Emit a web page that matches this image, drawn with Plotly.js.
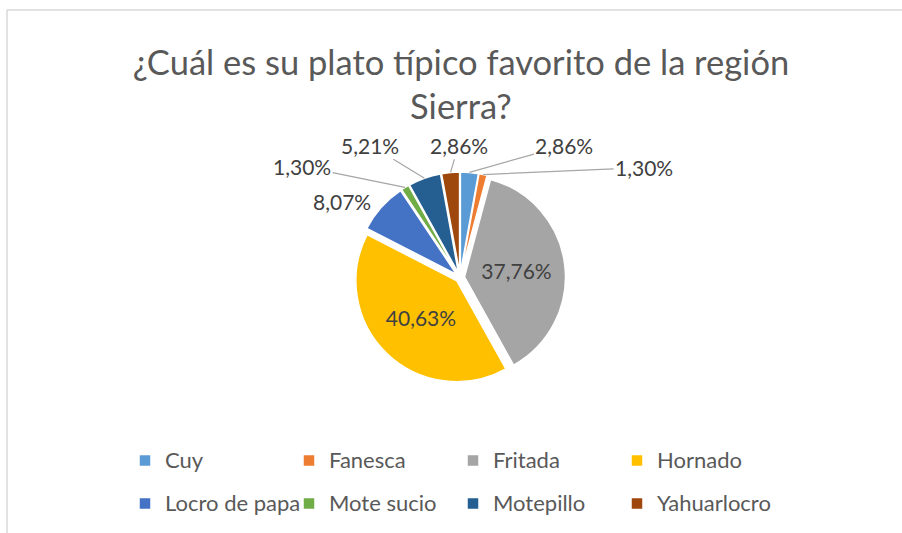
<!DOCTYPE html>
<html>
<head>
<meta charset="utf-8">
<script src="https://cdn.plot.ly/plotly-3.0.1.min.js"></script>
<style>html,body{margin:0;padding:0;background:#fff;}#chart{width:902px;height:533px;}</style>
</head>
<body>
<div id="chart"></div>
<script>
const categories = ["Cuy","Fanesca","Fritada","Hornado","Locro de papa","Mote sucio","Motepillo","Yahuarlocro"];
const percentages = [2.86, 1.30, 37.76, 40.63, 8.07, 1.30, 5.21, 2.86];
const sliceColors = ["#5B9BD5","#ED7D31","#A5A5A5","#FFC000","#4472C4","#70AD47","#255E91","#9E480E"];
const insideLabel = [false, false, true, true, false, false, false, false];
// pixel offset of each outside label from its slice edge (layout only)
const labelOffsets = [[95,-27],[161,-7],null,null,[-39,-6],[-103,-21],[-54,-33],[8,-27]];
const leaderLine = [true, true, false, false, false, true, true, true];
const chartTitle = "¿Cuál es su plato típico favorito de la región<br>Sierra?";

const FONT = "Lato, 'Liberation Sans', Arial, sans-serif";
const W = 902, H = 533;
const M = {l: 100, r: 100, t: 0, b: 0};
const PW = W - M.l - M.r, PH = H - M.t - M.b;
const PULL = 0.045;
// pie placement in pixels: centre and outer size
const PIE = {cx: 460, cy: 277.5, size: 211};
const DOM = {
  x: [(PIE.cx - PIE.size / 2 - M.l) / PW, (PIE.cx + PIE.size / 2 - M.l) / PW],
  y: [(H - M.b - PIE.cy - PIE.size / 2) / PH, (H - M.b - PIE.cy + PIE.size / 2) / PH]
};
const toPaperX = px => (px - M.l) / PW;
const toPaperY = py => (H - M.b - py) / PH;

const trace = {
  type: "pie",
  labels: categories.map(c => '<span style="font-size:22px;baseline-shift:5px">' + c + '</span>'),
  values: percentages,
  sort: false,
  direction: "clockwise",
  rotation: 0,
  marker: {colors: sliceColors, line: {color: "#ffffff", width: 1.5}},
  pull: percentages.map(() => PULL),
  texttemplate: percentages.map((v, i) => insideLabel[i] ? "%{value:.2f}%" : ""),
  textposition: "inside",
  insidetextfont: {family: FONT, size: 21, color: "#404040"},
  hoverinfo: "label+percent",
  domain: DOM,
  automargin: false
};

const total = percentages.reduce((a, b) => a + b, 0);
const rPx = PIE.size / 2 / (1 + PULL);
let cum = 0;
const annotations = [];
percentages.forEach((v, i) => {
  const mid = (cum + v / 2) / total * 2 * Math.PI;
  cum += v;
  if (insideLabel[i]) return;
  const rr = rPx * (1 + PULL);
  const px = PIE.cx + rr * Math.sin(mid);
  const py = PIE.cy - rr * Math.cos(mid);
  annotations.push({
    xref: "paper", yref: "paper",
    x: toPaperX(px), y: toPaperY(py),
    text: v.toFixed(2).replace(".", ",") + "%",
    showarrow: true, arrowhead: 0, arrowwidth: 1.2,
    arrowcolor: leaderLine[i] ? "#A6A6A6" : "rgba(0,0,0,0)",
    ax: labelOffsets[i][0], ay: labelOffsets[i][1],
    standoff: 0, startstandoff: 0,
    font: {family: FONT, size: 21, color: "#404040"}
  });
});

const layout = {
  width: W, height: H,
  margin: {l: M.l, r: M.r, t: M.t, b: M.b, autoexpand: false},
  paper_bgcolor: "#ffffff",
  separators: ",.",
  title: {text: chartTitle, font: {family: FONT, size: 34.5, color: "#595959"}, x: 0.511, xanchor: "center", y: 0.86, yanchor: "top"},
  showlegend: true,
  legend: {
    orientation: "h",
    x: toPaperX(125), xanchor: "left",
    y: toPaperY(434), yanchor: "top",
    entrywidth: 119,
    bgcolor: "rgba(0,0,0,0)",
    font: {family: FONT, size: 30.8, color: "#595959"},
    traceorder: "normal"
  },
  annotations: annotations,
  shapes: [
    {type: "line", xref: "paper", yref: "paper", x0: toPaperX(7), x1: toPaperX(W), y0: toPaperY(10), y1: toPaperY(10), line: {color: "#D9D9D9", width: 1.5}},
    {type: "line", xref: "paper", yref: "paper", x0: toPaperX(7), x1: toPaperX(7), y0: toPaperY(H), y1: toPaperY(10), line: {color: "#D9D9D9", width: 1.5}}
  ]
};

Plotly.newPlot("chart", [trace], layout, {displayModeBar: false, staticPlot: true});
</script>
</body>
</html>
